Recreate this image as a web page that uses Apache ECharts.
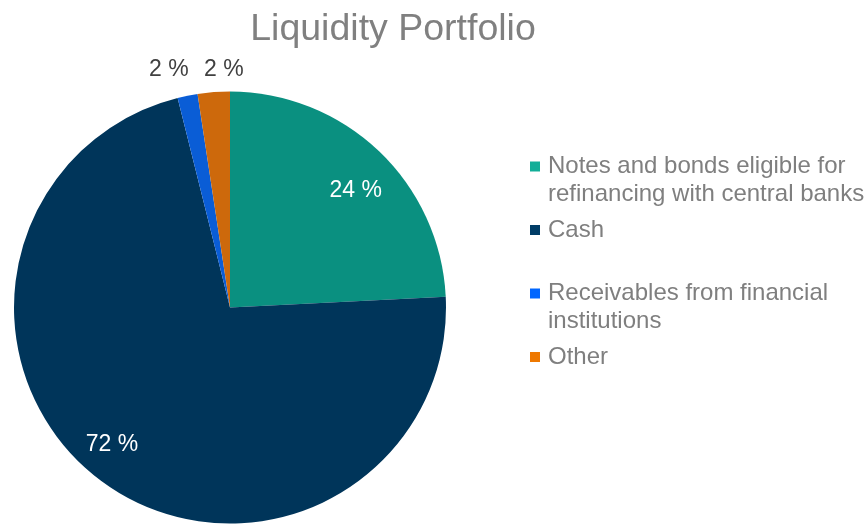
<!DOCTYPE html>
<html>
<head>
<meta charset="utf-8">
<script src="https://cdn.jsdelivr.net/npm/echarts@6/dist/echarts.min.js"></script>
<style>
  html, body { margin: 0; padding: 0; background: #fff; }
  #main { width: 866px; height: 525px; }
</style>
</head>
<body>
<div id="main"></div>
<script>
// liquidity split, share of total in %
const categories = [
  "Notes and bonds eligible for\nrefinancing with central banks",
  "Cash",
  "Receivables from financial\ninstitutions",
  "Other"
];
const shares = [24.2, 71.9, 1.5, 2.4];
const sliceColors = ["#0A9080", "#00355A", "#0A5DD6", "#CD690C"];
const legendColors = ["#12AE98", "#003C66", "#0066FF", "#EE7800"];

const font = '"Liberation Sans", Arial, sans-serif';

let chart = echarts.init(document.getElementById("main"));

// big slices get their label well inside, small ones sit above the rim
const bigOnes = [0, 1];

let pieData = categories.map((name, i) => ({
  name: name,
  value: shares[i],
  itemStyle: { color: sliceColors[i] },
  label: bigOnes.includes(i) ? { show: false } : { show: true }
}));

let labelData = categories.map((name, i) => ({
  name: name,
  value: shares[i],
  label: { show: bigOnes.includes(i) }
}));

function pct(p) {
  return Math.round(p.percent) + " %";
}

// square at the top of a taller box so it lines up with the first text line
const legendIcon = "path://M0,0H10V10H0Z M13,38L13,38";

chart.setOption({
  animation: false,
  title: {
    text: "Liquidity Portfolio",
    left: 388,
    top: 6,
    textAlign: "center",
    textStyle: { color: "#808080", fontSize: 37.5, fontWeight: "normal", fontFamily: font }
  },
  legend: {
    orient: "vertical",
    left: 530,
    top: 152.5,
    padding: 0,
    itemGap: 7.5,
    itemWidth: 13,
    itemHeight: 38,
    icon: legendIcon,
    data: categories.map((name, i) => ({
      name: name,
      itemStyle: { color: legendColors[i], borderWidth: 0 }
    })),
    formatter: (name) => (name.includes("\n") ? name : name + "\n\u00a0"),
    textStyle: { color: "#7F7F7F", fontSize: 24, lineHeight: 28, fontFamily: font }
  },
  series: [
    {
      type: "pie",
      center: [230, 307.5],
      radius: [0, 216],
      startAngle: 90,
      clockwise: true,
      avoidLabelOverlap: false,
      emphasis: { disabled: true },
      itemStyle: { borderWidth: 0 },
      label: {
        position: "outside",
        formatter: pct,
        color: "#404040",
        fontSize: 23,
        fontFamily: font,
        distanceToLabelLine: 0
      },
      labelLine: { show: false, length: 24, length2: 0 },
      labelLayout: function (p) {
        if (p.dataIndex === 2) return { align: "center", dx: -14, dy: -3 };
        if (p.dataIndex === 3) return { align: "center", dx: 12, dy: 1 };
        return {};
      },
      data: pieData
    },
    {
      // invisible twin so the inner labels land near the rim
      type: "pie",
      center: [230, 307.5],
      radius: [0, 350],
      startAngle: 90,
      clockwise: true,
      silent: true,
      emphasis: { disabled: true },
      itemStyle: { color: "rgba(0,0,0,0)", borderWidth: 0 },
      label: {
        position: "inside",
        formatter: pct,
        color: "#ffffff",
        fontSize: 23,
        fontFamily: font
      },
      labelLine: { show: false },
      labelLayout: function (p) {
        if (p.dataIndex === 0) return { dx: 3, dy: 12 };
        if (p.dataIndex === 1) return { dx: -12, dy: -6 };
        return {};
      },
      data: labelData
    }
  ]
});
</script>
</body>
</html>
